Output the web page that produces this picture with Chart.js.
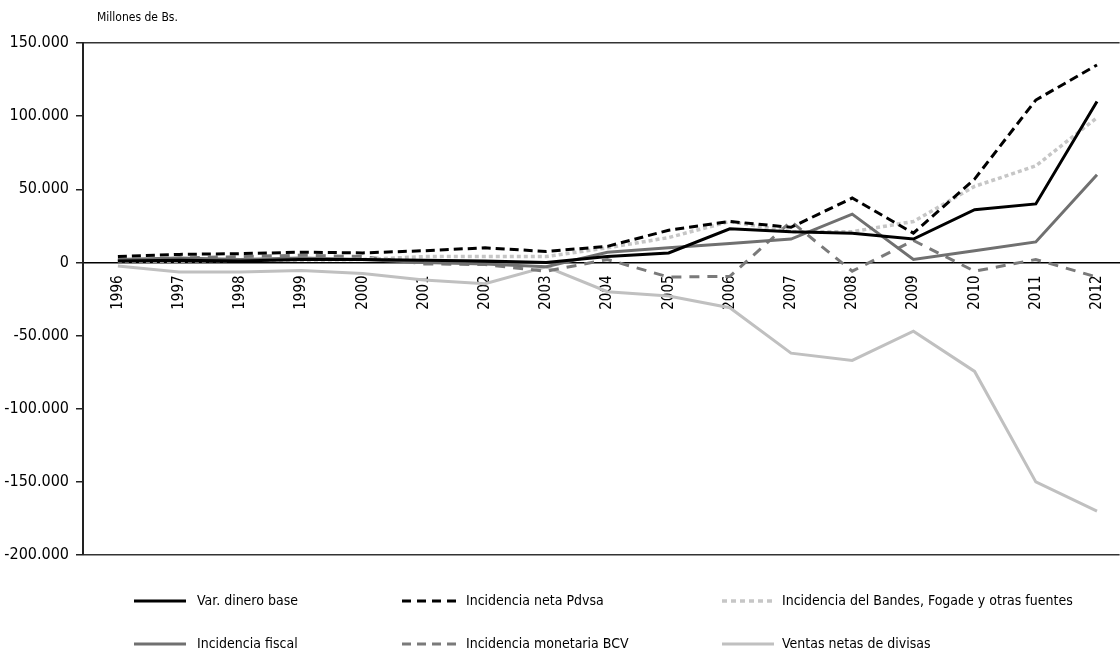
<!DOCTYPE html>
<html>
<head>
<meta charset="utf-8">
<script src="https://cdn.jsdelivr.net/npm/chart.js@4.4.1/dist/chart.umd.min.js"></script>
<style>
  html, body { margin: 0; padding: 0; background: #fff; }
  #wrap { width: 1120px; height: 655px; position: relative; }
</style>
</head>
<body>
<div id="wrap"><canvas id="chart"></canvas></div>
<script>
// Data (millones de Bs.)
const years = [1996, 1997, 1998, 1999, 2000, 2001, 2002, 2003, 2004, 2005, 2006, 2007, 2008, 2009, 2010, 2011, 2012];
const varDineroBase = [1000, 1500, 1000, 2000, 2000, 1500, 1000, 0, 4000, 6500, 23000, 21000, 20000, 16000, 36000, 40000, 110000];
const incidenciaPdvsa = [4000, 5500, 6000, 7000, 6500, 8000, 10000, 7500, 11000, 22000, 28000, 24000, 44000, 20000, 57000, 111000, 135000];
const incidenciaBandes = [1000, 1000, 1500, 1500, 2000, 4000, 4000, 4000, 10000, 17000, 28000, 21000, 21000, 28000, 52000, 66000, 99000];
const incidenciaFiscal = [2000, 3000, 2000, 3000, 2000, 0, -1000, -3000, 7000, 10000, 13000, 16000, 33000, 2000, 8000, 14000, 60000];
const incidenciaBCV = [1000, 3000, 4000, 5000, 4000, -1000, -1500, -6000, 2000, -10000, -9500, 28000, -6000, 15000, -6000, 2000, -10000];
const ventasDivisas = [-2500, -6500, -6500, -5500, -7500, -12000, -14500, -3000, -20000, -23000, -31000, -62000, -67000, -47000, -74500, -150000, -170000];
const yTicks = [150000, 100000, 50000, 0, -50000, -100000, -150000, -200000];

const FONT = '"Liberation Sans Narrow", "DejaVu Sans Condensed", "Arial Narrow", sans-serif';

const fmt = (v) => (v < 0 ? "-" : "") + Math.abs(v).toLocaleString("en-US").replace(/,/g, ".");

const series = [
  { label: "Var. dinero base", data: varDineroBase, color: "#000000", dash: [], legendDash: [], width: 3, order: 1 },
  { label: "Incidencia neta Pdvsa", data: incidenciaPdvsa, color: "#000000", dash: [9, 5], legendDash: [9, 6], width: 3, order: 2 },
  { label: "Incidencia del Bandes, Fogade y otras fuentes", data: incidenciaBandes, color: "#c6c6c6", dash: [4, 3], legendDash: [5, 4], width: 3.5, order: 4 },
  { label: "Incidencia fiscal", data: incidenciaFiscal, color: "#707070", dash: [], legendDash: [], width: 3, order: 3 },
  { label: "Incidencia monetaria BCV", data: incidenciaBCV, color: "#7a7a7a", dash: [10, 8], legendDash: [9, 6], width: 3, order: 5 },
  { label: "Ventas netas de divisas", data: ventasDivisas, color: "#c0c0c0", dash: [], legendDash: [], width: 3, order: 6 },
];

// legend columns: swatch start, text start
const legendCols = [[134, 197], [402, 466], [722, 782]];
const legendRows = [601, 644];

const extras = {
  id: "extras",
  afterDraw(chart) {
    const ctx = chart.ctx;
    ctx.save();
    // unit label
    ctx.fillStyle = "#000";
    ctx.font = "12px " + FONT;
    ctx.textBaseline = "middle";
    ctx.textAlign = "left";
    ctx.fillText("Millones de Bs.", 97, 18);

    // legend
    ctx.font = "14px " + FONT;
    series.forEach((s, i) => {
      const [x, tx] = legendCols[i % 3];
      const y = legendRows[Math.floor(i / 3)];
      ctx.beginPath();
      ctx.strokeStyle = s.color;
      ctx.lineWidth = s.width;
      ctx.setLineDash(s.legendDash);
      ctx.moveTo(x, y);
      ctx.lineTo(x + (s.legendDash.length ? 54 : 52), y);
      ctx.stroke();
      ctx.setLineDash([]);
      ctx.fillStyle = "#000";
      ctx.fillText(s.label, tx, y);
    });
    ctx.restore();
  },
};

new Chart(document.getElementById("chart"), {
  type: "line",
  data: {
    datasets: series.map((s) => ({
      label: s.label,
      data: s.data.map((v, i) => ({ x: years[i], y: v })),
      borderColor: s.color,
      borderWidth: s.width,
      borderDash: s.dash,
      pointRadius: 0,
      tension: 0,
      fill: false,
      order: s.order,
    })),
  },
  options: {
    responsive: true,
    maintainAspectRatio: false,
    animation: false,
    layout: {
      padding: { top: 43, right: 0, bottom: 100, left: 0 },
    },
    plugins: {
      legend: { display: false },
      tooltip: { enabled: false },
    },
    scales: {
      x: {
        type: "linear",
        position: { y: 0 },
        min: 1995.43,
        max: 2012.37,
        afterBuildTicks: (scale) => {
          scale.ticks = years.map((v) => ({ value: v }));
        },
        grid: { display: false },
        border: { color: "#000", width: 1.5 },
        ticks: {
          color: "#000",
          font: { family: FONT, size: 15 },
          minRotation: 90,
          maxRotation: 90,
          autoSkip: false,
          padding: 5,
          callback: (v) => String(v),
        },
      },
      y: {
        min: -200000,
        max: 150000,
        afterBuildTicks: (scale) => {
          scale.ticks = yTicks.map((v) => ({ value: v }));
        },
        afterFit: (scale) => {
          scale.width = 83;
        },
        grid: {
          color: (c) => (c.tick && (c.tick.value === 150000 || c.tick.value === -200000) ? "#333" : "transparent"),
          tickColor: "#222",
          tickLength: 7,
          lineWidth: 1.5,
        },
        border: { color: "#222", width: 2 },
        ticks: {
          color: "#000",
          font: { family: FONT, size: 16 },
          padding: 7,
          callback: (v) => fmt(v),
        },
      },
    },
  },
  plugins: [extras],
});
</script>
</body>
</html>
